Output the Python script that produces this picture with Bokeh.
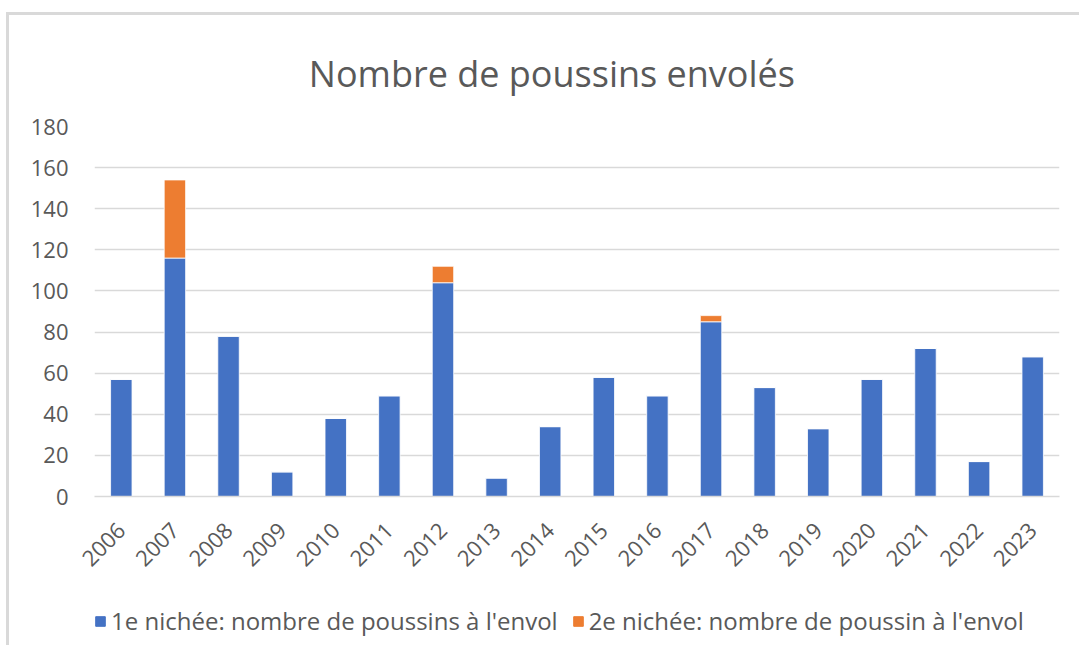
import math
from bokeh.plotting import figure
from bokeh.layouts import column
from bokeh.models import (ColumnDataSource, Legend, LegendItem, FactorRange, Range1d,
                          SingleIntervalTicker, Label)
from bokeh.embed import file_html
from bokeh.resources import INLINE

years = [str(y) for y in range(2006, 2024)]
first_brood = [57, 116, 78, 12, 38, 49, 104, 9, 34, 58, 49, 85, 53, 33, 57, 72, 17, 68]
second_brood = [0, 38, 0, 0, 0, 0, 8, 0, 0, 0, 0, 3, 0, 0, 0, 0, 0, 0]
series_names = ["1e nichée: nombre de poussins à l'envol",
                "2e nichée: nombre de poussin à l'envol"]
colors = ["#4472C4", "#ED7D31"]
title_text = "Nombre de poussins envolés"

FONT = "Open Sans"
TXT = "#595959"
GRID = "#d9d9d9"

source = ColumnDataSource(dict(years=years, first=first_brood, second=second_brood))


def blank_strip(h):
    f = figure(width=1070, height=h, output_backend="svg", toolbar_location=None,
               x_range=Range1d(0, 1), y_range=Range1d(0, 1), min_border=0,
               x_axis_type=None, y_axis_type=None)
    f.outline_line_color = None
    f.grid.visible = False
    f.border_fill_color = "white"
    return f


# title strip
tf = blank_strip(95)
tf.add_layout(Label(x=0.474, y=0.389, text=title_text, text_align="center",
                    text_baseline="alphabetic", text_font=FONT, text_font_size="36px",
                    text_color=TXT))

# main chart
p = figure(x_range=FactorRange(*years), y_range=Range1d(0, 180),
           frame_width=965, frame_height=370, output_backend="svg", toolbar_location=None,
           min_border_left=85, min_border_right=20, min_border_top=16,
           min_border_bottom=101)

rs = p.vbar_stack(["first", "second"], x="years", width=0.4, color=colors,
                  line_color="white", line_width=0.8, source=source)

p.outline_line_color = None
p.background_fill_color = "white"
p.border_fill_color = "white"

p.xgrid.grid_line_color = None
p.ygrid.grid_line_color = GRID
p.ygrid.grid_line_width = 1.5

p.yaxis.ticker = SingleIntervalTicker(interval=20)
p.yaxis.axis_line_color = None
p.yaxis.major_tick_line_color = None
p.yaxis.minor_tick_line_color = None
p.yaxis.major_label_text_font = FONT
p.yaxis.major_label_text_font_size = "22px"
p.yaxis.major_label_text_color = TXT
p.yaxis.major_label_standoff = 20

p.xaxis.axis_line_color = GRID
p.xaxis.axis_line_width = 1.5
p.xaxis.major_tick_line_color = None
p.xaxis.minor_tick_line_color = None
p.xaxis.major_label_orientation = math.pi / 4
p.xaxis.major_label_text_font = FONT
p.xaxis.major_label_text_font_size = "22px"
p.xaxis.major_label_text_color = TXT
p.xaxis.major_label_standoff = 24
p.x_range.range_padding = 0
p.x_range.group_padding = 0

# legend strip below the chart (proxy renderers lie outside the visible range)
lf = blank_strip(48)
lr = [lf.vbar(x=[-10], top=[0], width=0.4, color=c) for c in colors]

legend = Legend(items=[LegendItem(label=series_names[0], renderers=[lr[0]]),
                       LegendItem(label=series_names[1], renderers=[lr[1]])],
                orientation="horizontal", location=(0, 8))
legend.border_line_color = None
legend.background_fill_alpha = 0
legend.label_text_font = FONT
legend.label_text_font_size = "24px"
legend.label_text_color = TXT
legend.glyph_width = 12
legend.glyph_height = 12
legend.label_standoff = 5
legend.spacing = 14
legend.padding = 0
legend.margin = 0
lf.add_layout(legend, "center")

layout = column(tf, p, lf, spacing=0, margin=(12, 0, 0, 6),
                styles={"border-top": f"3px solid {GRID}", "border-left": f"3px solid {GRID}"})

open("out.html", "w").write(file_html(layout, INLINE))
